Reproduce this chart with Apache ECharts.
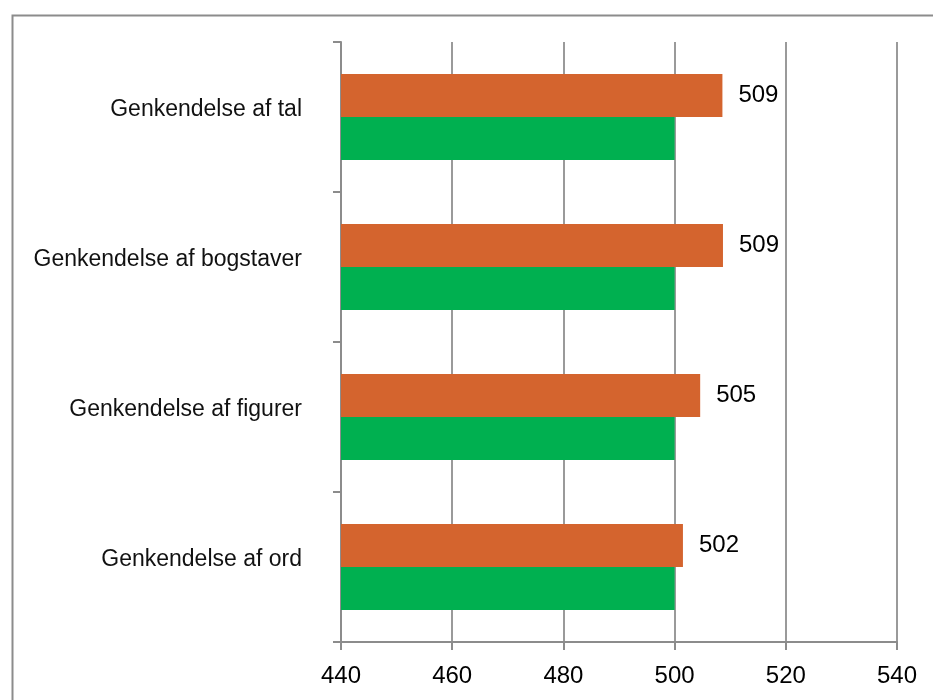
<!DOCTYPE html>
<html>
<head>
<meta charset="utf-8">
<script src="https://cdn.jsdelivr.net/npm/echarts@6/dist/echarts.min.js"></script>
<style>
	html, body { margin: 0; padding: 0; background: #fff; }
	#chart { width: 933px; height: 700px; }
</style>
</head>
<body>
<div id="chart"></div>
<script>
	// kategorier, øverst først
	var categories = ['Genkendelse af tal', 'Genkendelse af bogstaver', 'Genkendelse af figurer', 'Genkendelse af ord'];
	// orange søjler (aflæst ved søjlens ende, etiket afrundet)
	var orangeValues = [508.6, 508.7, 504.6, 501.5];
	// grønne søjler (referenceniveau)
	var greenValues = [500, 500, 500, 500];
	var xMin = 440, xMax = 540, xStep = 20;

	var font = '"Liberation Sans", Arial, sans-serif';
	var chart = echarts.init(document.getElementById('chart'));
	var option = {
		animation: false,
		backgroundColor: '#fff',
		textStyle: { fontFamily: font },
		grid: { left: 341, top: 42, right: 36, bottom: 58, containLabel: false },
		graphic: [{
			type: 'rect',
			left: 10, top: 13,
			shape: { width: 1000, height: 1000 },
			style: { fill: 'none', stroke: '#8c8c8c', lineWidth: 2 },
			silent: true
		}],
		xAxis: {
			type: 'value',
			min: xMin,
			max: xMax,
			interval: xStep,
			axisLine: { show: true, lineStyle: { color: '#8c8c8c', width: 2 } },
			axisTick: { show: true, length: 8, lineStyle: { color: '#8c8c8c', width: 2 } },
			splitLine: { show: true, lineStyle: { color: '#9a9a9a', width: 2 } },
			axisLabel: { fontSize: 24, color: '#000', margin: 22, fontFamily: font }
		},
		yAxis: {
			type: 'category',
			inverse: true,
			data: categories,
			axisLine: { show: true, lineStyle: { color: '#8c8c8c', width: 2 } },
			axisTick: { show: true, length: 8, lineStyle: { color: '#8c8c8c', width: 2 } },
			axisLabel: {
				fontSize: 23, color: '#111', margin: 39, fontFamily: font,
				verticalAlign: 'bottom', lineHeight: 14
			}
		},
		series: [{
			name: 'orange',
			type: 'bar',
			data: orangeValues,
			barWidth: 43,
			barGap: '0%',
			itemStyle: { color: '#D4642E' },
			label: {
				show: true,
				position: 'right',
				distance: 16,
				fontSize: 24,
				color: '#000',
				fontFamily: font,
				formatter: function (p) { return Math.round(p.value); }
			}
		}, {
			name: 'green',
			type: 'bar',
			data: greenValues,
			barWidth: 43,
			barGap: '0%',
			itemStyle: { color: '#00B050' }
		}]
	};
	chart.setOption(option);
</script>
</body>
</html>
